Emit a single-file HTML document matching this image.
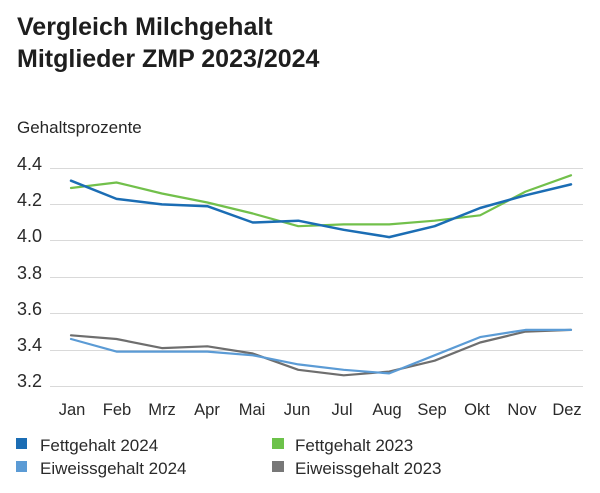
<!DOCTYPE html>
<html>
<head>
<meta charset="utf-8">
<style>
  html,body{margin:0;padding:0;background:#fff;}
  body{width:600px;height:493px;overflow:hidden;}
  svg{display:block;}
  text{font-family:"Liberation Sans",Arial,sans-serif;}
</style>
</head>
<body>
<svg width="600" height="493" viewBox="0 0 600 493" xmlns="http://www.w3.org/2000/svg">
  <rect width="600" height="493" fill="#ffffff"/>
  <!-- Title -->
  <text x="17" y="35" font-size="25" font-weight="bold" fill="#1e1e1e">Vergleich Milchgehalt</text>
  <text x="17" y="67" font-size="25" font-weight="bold" fill="#1e1e1e">Mitglieder ZMP 2023/2024</text>
  <text x="17" y="133" font-size="17" fill="#262626">Gehaltsprozente</text>

  <!-- Gridlines -->
  <g stroke="#d9d9d9" stroke-width="1">
    <line x1="50" y1="168.5" x2="583" y2="168.5"/>
    <line x1="50" y1="204.5" x2="583" y2="204.5"/>
    <line x1="50" y1="240.5" x2="583" y2="240.5"/>
    <line x1="50" y1="277.5" x2="583" y2="277.5"/>
    <line x1="50" y1="313.5" x2="583" y2="313.5"/>
    <line x1="50" y1="350.5" x2="583" y2="350.5"/>
    <line x1="50" y1="386.5" x2="583" y2="386.5"/>
  </g>

  <!-- Y labels -->
  <g font-size="18" fill="#2a2a2a">
    <text x="17" y="170">4.4</text>
    <text x="17" y="206">4.2</text>
    <text x="17" y="242">4.0</text>
    <text x="17" y="279">3.8</text>
    <text x="17" y="315">3.6</text>
    <text x="17" y="351">3.4</text>
    <text x="17" y="387">3.2</text>
  </g>

  <!-- X labels -->
  <g font-size="16.5" fill="#2a2a2a" text-anchor="middle">
    <text x="72" y="415">Jan</text>
    <text x="117" y="415">Feb</text>
    <text x="162" y="415">Mrz</text>
    <text x="207" y="415">Apr</text>
    <text x="252" y="415">Mai</text>
    <text x="297" y="415">Jun</text>
    <text x="342" y="415">Jul</text>
    <text x="387" y="415">Aug</text>
    <text x="432" y="415">Sep</text>
    <text x="477" y="415">Okt</text>
    <text x="522" y="415">Nov</text>
    <text x="567" y="415">Dez</text>
  </g>

  <!-- Series -->
  <g fill="none" stroke-linejoin="round" stroke-linecap="round">
    <!-- Fettgehalt 2023 -->
    <polyline stroke="#72c04b" stroke-width="2.2"
      points="71,188.0 116.5,182.5 161.9,193.5 207.4,202.5 252.8,213.5 298.3,226.2 343.7,224.4 389.2,224.4 434.6,220.7 480.1,215.3 525.5,191.6 571,175.3"/>
    <!-- Eiweissgehalt 2023 -->
    <polyline stroke="#6e6e6e" stroke-width="2.2"
      points="71,335.3 116.5,339.0 161.9,348.1 207.4,346.3 252.8,353.5 298.3,369.8 343.7,375.3 389.2,371.6 434.6,360.7 480.1,342.5 525.5,331.6 571,329.9"/>
    <!-- Fettgehalt 2024 -->
    <polyline stroke="#1b6db4" stroke-width="2.5"
      points="71,180.7 116.5,198.9 161.9,204.4 207.4,206.2 252.8,222.5 298.3,220.7 343.7,229.8 389.2,237.1 434.6,226.2 480.1,208.0 525.5,195.3 571,184.4"/>
    <!-- Eiweissgehalt 2024 -->
    <polyline stroke="#5b9bd5" stroke-width="2.2"
      points="71,339.0 116.5,351.6 161.9,351.6 207.4,351.6 252.8,355.3 298.3,364.4 343.7,369.8 389.2,373.4 434.6,355.3 480.1,337.1 525.5,329.9 571,329.9"/>
  </g>

  <!-- Legend -->
  <rect x="16" y="438" width="11" height="11" fill="#1b6db4"/>
  <rect x="16" y="461" width="11" height="11" fill="#5b9bd5"/>
  <rect x="272" y="438" width="12" height="11" fill="#6cc24a"/>
  <rect x="272" y="461" width="12" height="11" fill="#777777"/>
  <g font-size="17" fill="#2a2a2a">
    <text x="40" y="451">Fettgehalt 2024</text>
    <text x="40" y="474">Eiweissgehalt 2024</text>
    <text x="295" y="451">Fettgehalt 2023</text>
    <text x="295" y="474">Eiweissgehalt 2023</text>
  </g>
</svg>
</body>
</html>
